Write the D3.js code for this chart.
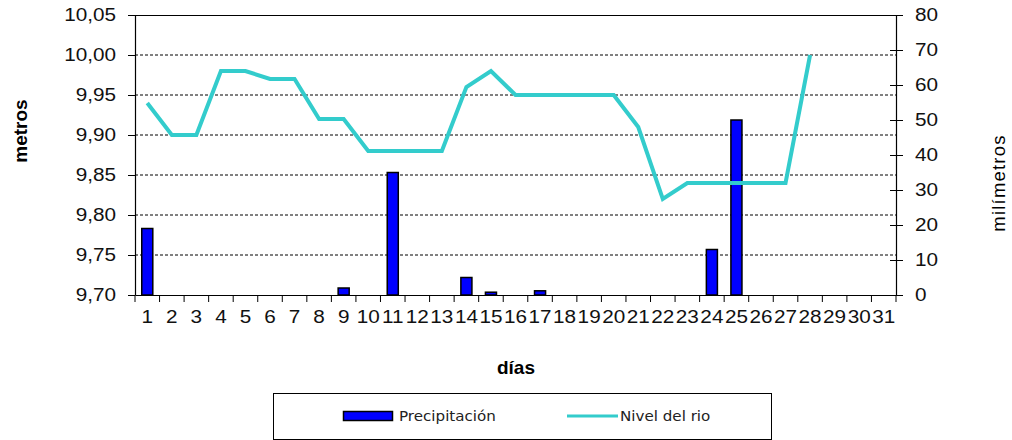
<!DOCTYPE html>
<html><head><meta charset="utf-8">
<script src="https://cdn.jsdelivr.net/npm/d3@7"></script>
<style>body{margin:0;background:#fff}svg{display:block}</style>
</head><body>
<svg id="c" width="1012" height="440"></svg>
<script>
const days = ["1","2","3","4","5","6","7","8","9","10","11","12","13","14","15","16","17","18","19","20","21","22","23","24","25","26","27","28","29","30","31"];
const precip = [19,0,0,0,0,0,0,0,2,0,35,0,0,5,0.8,0,1.2,0,0,0,0,0,0,13,50,0,0,0,0,0,0];
const level = [9.94,9.90,9.90,9.98,9.98,9.97,9.97,9.92,9.92,9.88,9.88,9.88,9.88,9.96,9.98,9.95,9.95,9.95,9.95,9.95,9.91,9.82,9.84,9.84,9.84,9.84,9.84,10.00,null,null,null];
const leftTicks = [9.70,9.75,9.80,9.85,9.90,9.95,10.00,10.05];
const rightTicks = [0,10,20,30,40,50,60,70,80];
const legendLabels = ["Precipitación","Nivel del rio"];

const svg = d3.select("#c");
const L = 135, R = 896, T = 15, B = 295;
const SX = 1.12;
const x = d3.scaleBand().domain(days).range([L, R]).paddingInner(0).paddingOuter(0);
const yL = d3.scaleLinear().domain([9.70, 10.05]).range([B, T]);
const yR = d3.scaleLinear().domain([0, 80]).range([B, T]);
const fmtL = d => d3.format(".2f")(d).replace(".", ",");
const font = "Liberation Sans, Arial, sans-serif";

// gridlines
svg.append("g").selectAll("line").data(leftTicks.filter(d => d > 9.71 && d < 10.04)).join("line")
  .attr("x1", L).attr("x2", R).attr("y1", d => yL(d)).attr("y2", d => yL(d))
  .attr("stroke", "#000").attr("stroke-width", 1).attr("stroke-dasharray", "3,2");

// bars
const bw = x.bandwidth() * 0.45;
svg.append("g").selectAll("rect").data(days.map((d, i) => ({d, v: precip[i]})).filter(o => o.v > 0)).join("rect")
  .attr("x", o => x(o.d) + (x.bandwidth() - bw) / 2)
  .attr("y", o => yR(o.v))
  .attr("width", bw)
  .attr("height", o => B - yR(o.v))
  .attr("fill", "#0000FF").attr("stroke", "#000").attr("stroke-width", 1.5);

// line
const line = d3.line().defined(d => d.v != null)
  .x(d => x(d.d) + x.bandwidth() / 2).y(d => yL(d.v));
svg.append("path").datum(days.map((d, i) => ({d, v: level[i]})))
  .attr("d", line).attr("fill", "none").attr("stroke", "#33CCCC").attr("stroke-width", 4)
  .attr("stroke-linejoin", "miter");

// frame top
svg.append("line").attr("x1", L).attr("x2", R).attr("y1", T + 0.5).attr("y2", T + 0.5).attr("stroke", "#000");

// left axis
const gl = svg.append("g").attr("transform", `translate(${L},0)`)
  .call(d3.axisLeft(yL).tickValues(leftTicks).tickFormat(fmtL).tickSize(7).tickPadding(12).tickSizeOuter(0));
// right axis
const gr = svg.append("g").attr("transform", `translate(${R},0)`)
  .call(d3.axisRight(yR).tickValues(rightTicks).tickSize(7).tickPadding(12).tickSizeOuter(0));
gr.selectAll(".tick line").attr("x1", -6);
// bottom axis
const gb = svg.append("g").attr("transform", `translate(0,${B})`)
  .call(d3.axisBottom(x).tickSize(0).tickPadding(15).tickSizeOuter(0));
gb.append("g").selectAll("line").data(days.concat(["end"])).join("line")
  .attr("x1", (d, i) => i < days.length ? x(d) : R).attr("x2", (d, i) => i < days.length ? x(d) : R)
  .attr("y1", 0).attr("y2", 7).attr("stroke", "#000");

[gl, gr, gb].forEach(g => {
  g.selectAll("path.domain").attr("stroke", "#000").attr("stroke-width", 1.2);
  g.selectAll(".tick line").attr("stroke", "#000");
  g.selectAll(".tick text").attr("font-family", font).attr("font-size", 18.5).attr("fill", "#111")
    .each(function() {
      const t = d3.select(this);
      const xa = +t.attr("x") || 0, ya = +t.attr("y") || 0;
      t.attr("x", 0).attr("y", 0).attr("transform", `translate(${xa},${ya}) scale(${SX},1)`);
    });
});

// axis titles
svg.append("text").attr("transform", "translate(27,131) rotate(-90)").attr("text-anchor", "middle")
  .attr("font-family", font).attr("font-size", 19).attr("font-weight", "bold").text("metros");
svg.append("text").attr("transform", "translate(1005,183) rotate(-90)").attr("text-anchor", "middle")
  .attr("font-family", font).attr("font-size", 18.5).attr("letter-spacing", 1.2).text("milímetros");
svg.append("text").attr("x", 516).attr("y", 374).attr("text-anchor", "middle")
  .attr("font-family", font).attr("font-size", 19).attr("font-weight", "bold").text("días");

// legend
const lf = "DejaVu Sans, Verdana, sans-serif";
const lg = svg.append("g");
lg.append("rect").attr("x", 273.5).attr("y", 393.5).attr("width", 498).attr("height", 46)
  .attr("fill", "#fff").attr("stroke", "#000").attr("stroke-width", 1);
lg.append("rect").attr("x", 343.5).attr("y", 411.5).attr("width", 49).attr("height", 9)
  .attr("fill", "#0000FF").attr("stroke", "#000").attr("stroke-width", 1.5);
lg.append("text").attr("transform", `translate(399,421) scale(${SX},1)`).attr("font-family", lf)
  .attr("font-size", 13.5).attr("fill", "#222").text(legendLabels[0]);
lg.append("line").attr("x1", 567).attr("x2", 618).attr("y1", 416).attr("y2", 416)
  .attr("stroke", "#33CCCC").attr("stroke-width", 3);
lg.append("text").attr("transform", `translate(620,421) scale(${SX},1)`).attr("font-family", lf)
  .attr("font-size", 13.5).attr("fill", "#222").text(legendLabels[1]);
</script>
</body></html>
